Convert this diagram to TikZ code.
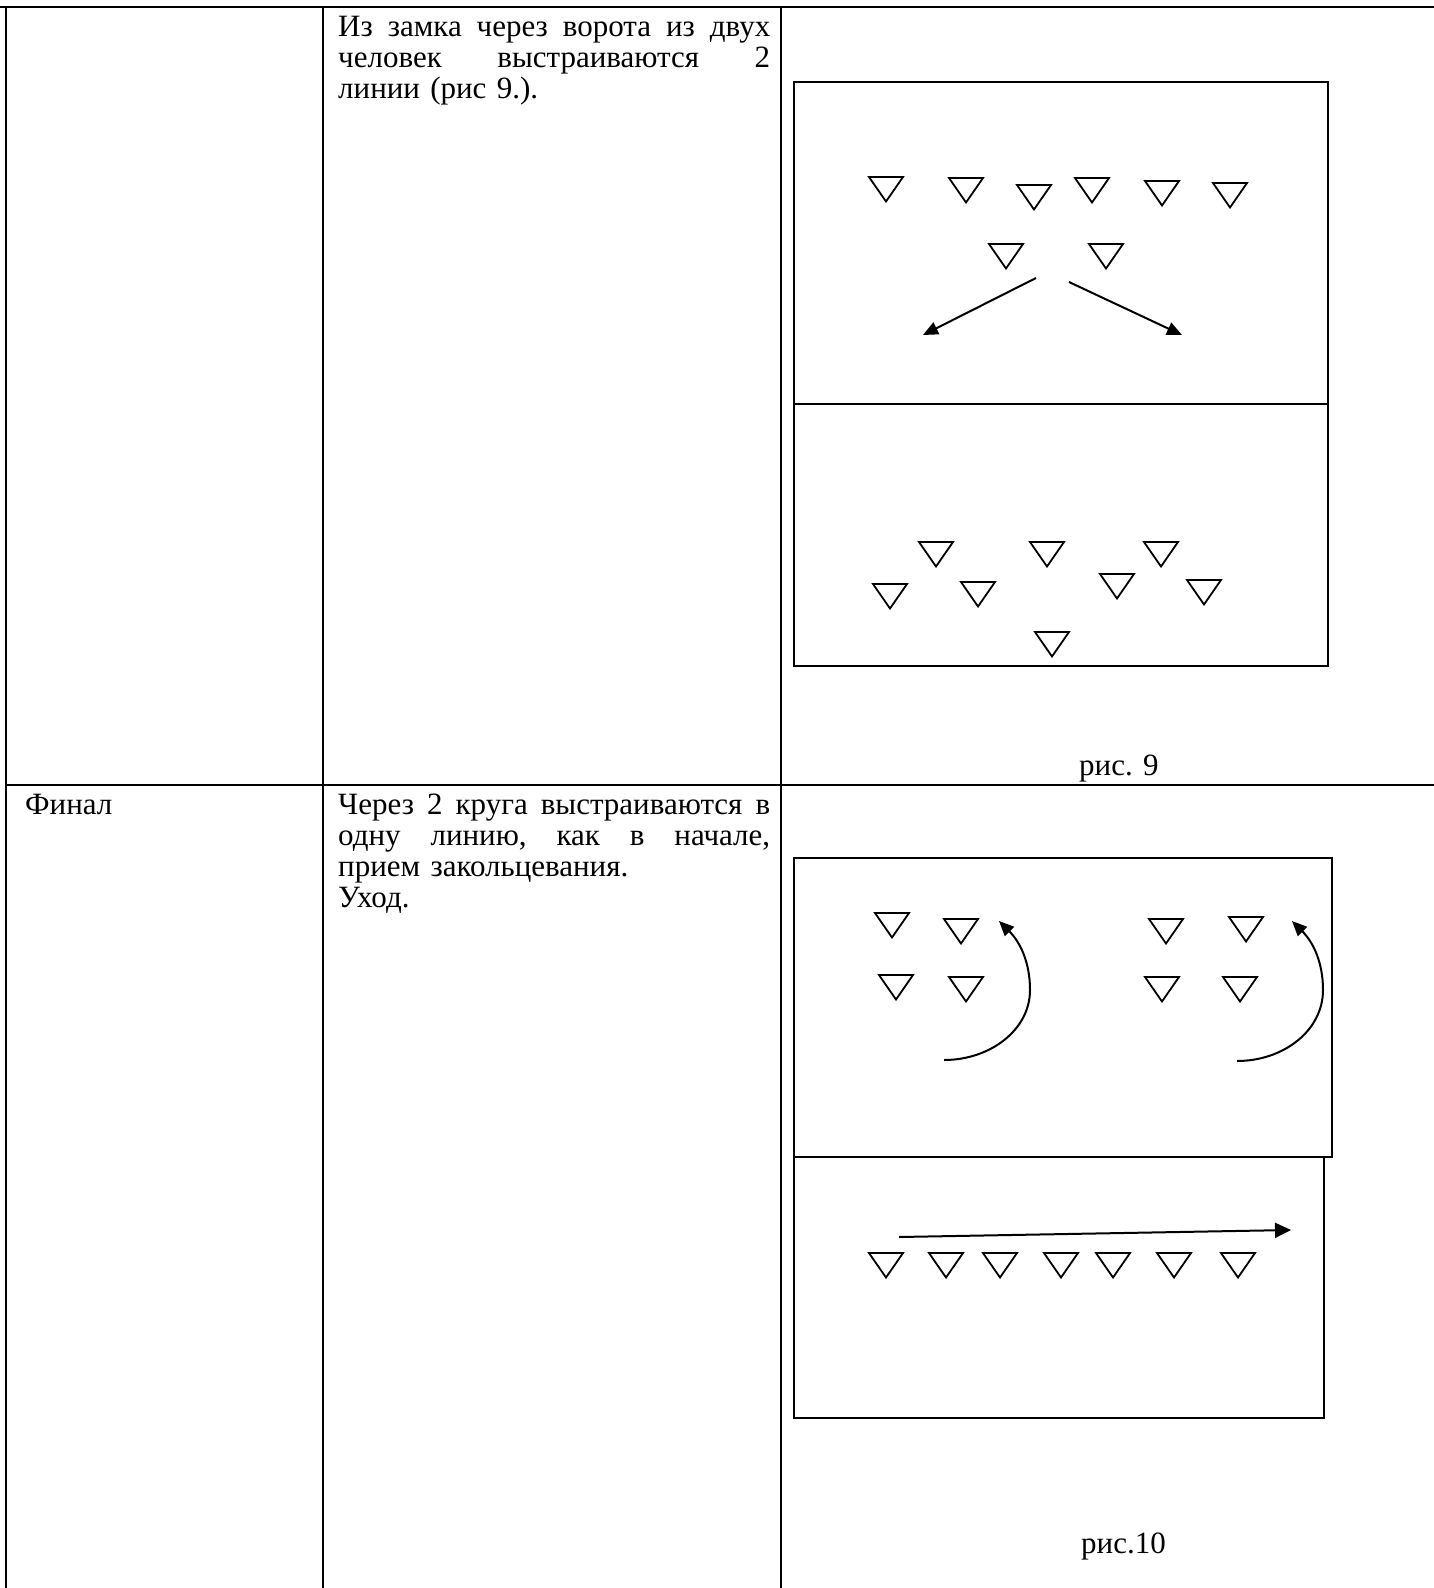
\documentclass[tikz,border=0pt]{standalone}
\usepackage{fontspec}
\setmainfont{Liberation Serif}
\usetikzlibrary{arrows.meta}

\tikzset{
  tbl/.style={line width=2.6pt},
  box/.style={line width=2.4pt},
  arr/.style={line width=2pt, -{Triangle[length=15pt,width=13pt]}},
  cell/.style={inner sep=0pt, anchor=base west, text width=432pt, align=left},
  player/.pic={\draw[line width=1.8pt, line join=miter] (-17,0) -- (17,0) -- (0,24.5) -- cycle;}
}

\begin{document}
\begin{tikzpicture}[x=1pt, y=-1pt, font=\fontsize{31}{31}\selectfont]
  \useasboundingbox[fill=white] (0,0) rectangle (1434,1588);

  % table
  \draw[tbl] (0,7) -- (1434,7);
  \draw[tbl] (6,7) -- (6,1588);
  \draw[tbl] (323,7) -- (323,1588);
  \draw[tbl] (781,7) -- (781,1588);
  \draw[tbl] (6,785) -- (1434,785);

  \node[cell] (text9) at (338,36)
    {Из\hfill замка\hfill через\hfill ворота\hfill из\hfill двух\\
     человек\hfill выстраиваются\hfill 2\\
     линии (рис 9.).};
  \node[cell, text width=280pt] (final) at (25,814) {Финал};
  \node[cell] (text10) at (338,814)
    {Через\hfill 2\hfill круга\hfill выстраиваются\hfill в\\
     одну\hfill линию,\hfill как\hfill в\hfill начале,\\
     прием закольцевания.\\
     Уход.};

  % рис. 9
  \begin{scope}
    \draw[box] (794,82) rectangle (1328,404);
    \draw[box] (794,404) rectangle (1328,666);
    \foreach \x/\y in {886/177, 966/178, 1034/185, 1092/178, 1162/181, 1230/183,
                       1006/244, 1106/244}
      \pic at (\x,\y) {player};
    \coordinate (gate) at (1036,278);
    \coordinate (gate2) at (1069,282);
    \coordinate (lineL) at (923,335);
    \coordinate (lineR) at (1182,335);
    \draw[arr] (gate) -- (lineL);
    \draw[arr] (gate2) -- (lineR);
    \foreach \x/\y in {936/542, 1047/542, 1161/542, 890/584, 978/582, 1117/574,
                       1204/580, 1052/632}
      \pic at (\x,\y) {player};
    \node[inner sep=0pt, anchor=base west] (cap9) at (1079,775) {рис. 9};
  \end{scope}

  % рис. 10
  \begin{scope}
    \draw[box] (794,858) rectangle (1332,1157);
    \draw[box] (794,1157) -- (794,1418) -- (1324,1418) -- (1324,1157);
    \foreach \x/\y in {892/913, 961/919, 896/975, 966/977,
                       1166/919, 1246/917, 1162/977, 1240/977}
      \pic at (\x,\y) {player};
    \coordinate (loopA) at (944,1060);
    \coordinate (loopAend) at (999,921);
    \coordinate (loopB) at (1237,1061);
    \coordinate (loopBend) at (1292,921);
    \draw[arr] (loopA) .. controls (990,1060) and (1030,1030) .. (1030,990)
      .. controls (1030,962) and (1020,942) .. (loopAend);
    \draw[arr] (loopB) .. controls (1283,1061) and (1323,1031) .. (1323,990)
      .. controls (1323,962) and (1313,942) .. (loopBend);
    \coordinate (rowStart) at (899,1237);
    \coordinate (rowEnd) at (1291,1230);
    \draw[arr, -{Triangle[length=16pt,width=15pt]}] (rowStart) -- (rowEnd);
    \foreach \x in {886, 946, 1000, 1061, 1113, 1174, 1238}
      \pic at (\x,1253) {player};
    \node[inner sep=0pt, anchor=base west] (cap10) at (1081,1553) {рис.10};
  \end{scope}
\end{tikzpicture}
\end{document}
